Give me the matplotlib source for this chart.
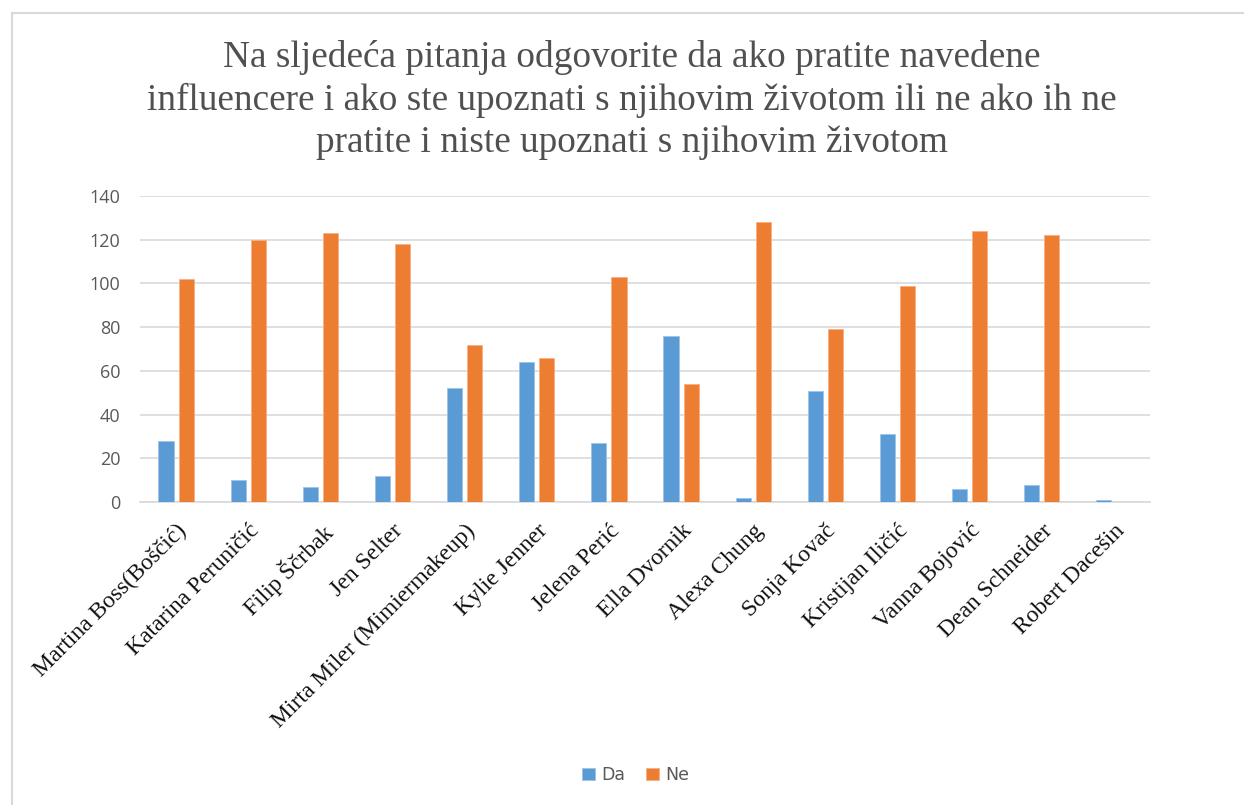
import matplotlib
matplotlib.use("Agg")
import matplotlib.pyplot as plt
import numpy as np
from matplotlib.patches import Rectangle

categories = ["Martina Boss(Boščić)", "Katarina Peruničić", "Filip Ščrbak", "Jen Selter",
              "Mirta Miler (Mimiermakeup)", "Kylie Jenner", "Jelena Perić", "Ella Dvornik",
              "Alexa Chung", "Sonja Kovač", "Kristijan Iličić", "Vanna Bojović",
              "Dean Schneider", "Robert Dacešin"]
da = [28, 10, 7, 12, 52, 64, 27, 76, 2, 51, 31, 6, 8, 1]
ne = [102, 120, 123, 118, 72, 66, 103, 54, 128, 79, 99, 124, 122, 0]
yticks = [0, 20, 40, 60, 80, 100, 120, 140]
title = ("Na sljedeća pitanja odgovorite da ako pratite navedene\n"
         "influencere i ako ste upoznati s njihovim životom ili ne ako ih ne\n"
         "pratite i niste upoznati s njihovim životom")

W, H = 1244, 805
fig = plt.figure(figsize=(W / 100, H / 100), dpi=100)
fig.patch.set_facecolor("white")

# chart frame
fig.patches.append(Rectangle((12 / W, -0.05), 1.1, (805 - 13) / H + 0.05,
                             transform=fig.transFigure, fill=False,
                             edgecolor="#d9d9d9", linewidth=1.5))

ax = fig.add_axes([140 / W, (H - 502) / H, (1150 - 140) / W, (502 - 196) / H])
x = np.arange(len(categories))
bw = 0.21
off = 0.14
ax.bar(x - off, da, bw, color="#5B9BD5", label="Da", zorder=3,
       edgecolor="#9cc3e6", linewidth=0.6)
ax.bar(x + off, ne, bw, color="#ED7D31", label="Ne", zorder=3,
       edgecolor="#f4b183", linewidth=0.6)

ax.set_xlim(-0.5, len(categories) - 0.5)
ax.set_ylim(0, 140)
ax.set_yticks(yticks)
ax.set_yticklabels([str(v) for v in yticks], fontsize=13, color="#595959",
                   family="Open Sans")
ax.yaxis.grid(True, color="#d9d9d9", linewidth=1.2, zorder=0)
ax.set_axisbelow(True)
for s in ["top", "right", "left"]:
    ax.spines[s].set_visible(False)
ax.spines["bottom"].set_color("#d9d9d9")
ax.spines["bottom"].set_linewidth(1.2)
ax.tick_params(axis="y", length=0, pad=14)
ax.tick_params(axis="x", length=0, pad=13)
ax.set_xticks(x)
ax.set_xticklabels(categories, rotation=45, ha="right", rotation_mode="anchor",
                   fontsize=17, family="Liberation Serif", color="#111111")

fig.text(632 / W, (805 - 100) / H, title, ha="center", va="center",
         fontsize=26.8, family="Liberation Serif", color="#505050",
         linespacing=1.3)

leg = fig.legend(loc="center", bbox_to_anchor=(636 / W, (805 - 775) / H),
                 ncol=2, frameon=False, fontsize=12.5,
                 handlelength=0.7, handleheight=0.7, columnspacing=1.2,
                 handletextpad=0.4)
for t in leg.get_texts():
    t.set_color("#595959")

fig.savefig("out.png", dpi=100, facecolor="white")
